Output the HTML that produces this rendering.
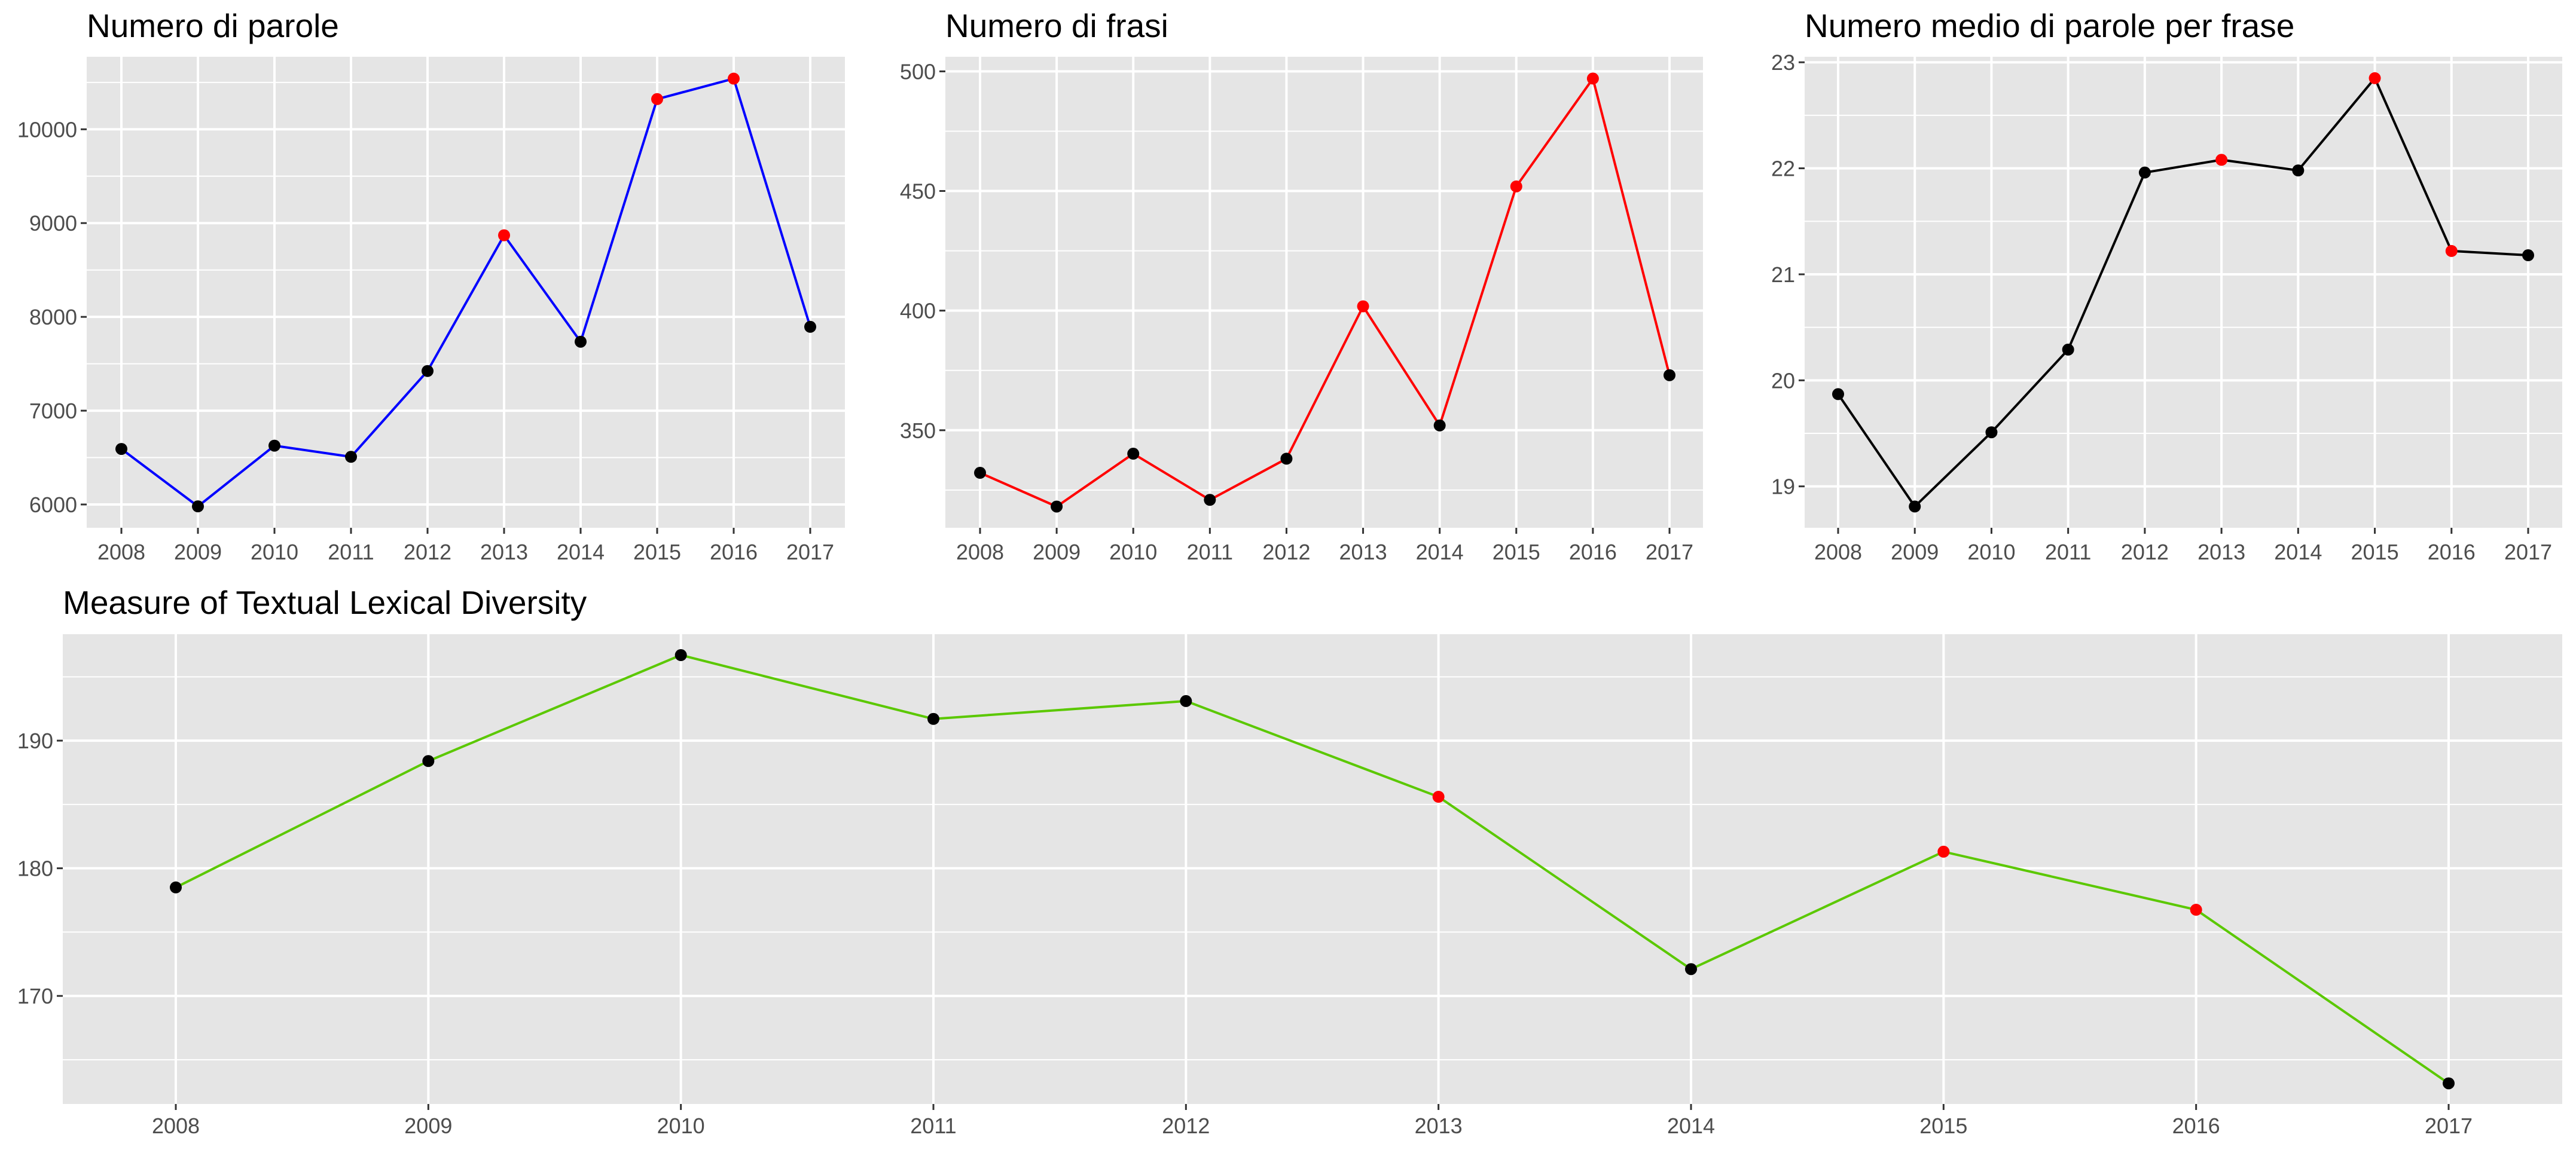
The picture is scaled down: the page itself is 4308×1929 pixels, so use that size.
<!DOCTYPE html>
<html><head><meta charset="utf-8"><style>
html,body{margin:0;padding:0;background:#fff;}
svg{display:block;font-family:"Liberation Sans",Arial,sans-serif;}
</style></head><body>
<svg id="chart" width="4308" height="1929" viewBox="0 0 4308 1929" xmlns="http://www.w3.org/2000/svg"></svg>
<script>
const years = [2008,2009,2010,2011,2012,2013,2014,2015,2016,2017];
const paroleValues = [6592,5980,6627,6508,7423,8870,7735,10322,10540,7894];
const frasiValues = [332.2,318.1,340.2,320.9,338.1,401.8,352,451.9,497,373];
const medioValues = [19.87,18.81,19.51,20.29,21.96,22.08,21.98,22.85,21.22,21.18];
const mtldValues = [178.5,188.4,196.7,191.7,193.1,185.6,172.1,181.3,176.75,163.15];
const paroleRed = [false,false,false,false,false,true,false,true,true,false];
const frasiRed = [false,false,false,false,false,true,false,true,true,false];
const medioRed = [false,false,false,false,false,true,false,true,true,false];
const mtldRed = [false,false,false,false,false,true,false,true,true,false];
const paroleTicks = [6000,7000,8000,9000,10000];
const frasiTicks = [350,400,450,500];
const medioTicks = [19,20,21,22,23];
const mtldTicks = [170,180,190];

const NS = "http://www.w3.org/2000/svg";
const svg = document.getElementById('chart');
function mk(tag, attrs, parent){
  const e = document.createElementNS(NS, tag);
  for (const k in attrs) e.setAttribute(k, attrs[k]);
  (parent||svg).appendChild(e);
  return e;
}
function panel(cfg){
  const g = mk('g', {});
  
  
  const L=cfg.left,R=cfg.right,T=cfg.top,B=cfg.bottom;
  const xs = v => cfg.x0 + (v - years[0]) * (cfg.x1 - cfg.x0) / (years[years.length-1]-years[0]);
  const ys = v => cfg.yA + (v - cfg.vA) * (cfg.yB - cfg.yA) / (cfg.vB - cfg.vA);
  const t = mk('text', {x:L, y:cfg.titleY, 'font-size':cfg.titleSize, fill:'#000'}, g);
  t.textContent = cfg.title;
  
  
  const bg = mk('rect', {x:L, y:T, width:R-L, height:B-T, fill:'#e5e5e5'}, g);
  
  
  const step = cfg.ticks[1]-cfg.ticks[0];
  const lo = cfg.ticks[0] - step*3, hi = cfg.ticks[cfg.ticks.length-1] + step*3;
  for (let v = lo + step/2; v < hi; v += step){
    const y = ys(v);
    if (y > T && y < B){
      const l = mk('line', {x1:L, x2:R, y1:y, y2:y, stroke:'#fff', 'stroke-width':2}, g);
      
      
    }
  }
  cfg.ticks.forEach(v => {
    const y = ys(v);
    const l = mk('line', {x1:L, x2:R, y1:y, y2:y, stroke:'#fff', 'stroke-width':4}, g);
    
    
    const tk = mk('line', {x1:L-10, x2:L, y1:y, y2:y, stroke:'#333', 'stroke-width':3}, g);
    
    
    const tx = mk('text', {x:L-16, y:y+13, 'font-size':36, fill:'#4d4d4d', 'text-anchor':'end'}, g);
    tx.textContent = v;
    
    
  });
  years.forEach(yr => {
    const x = xs(yr);
    const l = mk('line', {x1:x, x2:x, y1:T, y2:B, stroke:'#fff', 'stroke-width':4}, g);
    
    
    const tk = mk('line', {x1:x, x2:x, y1:B, y2:B+10, stroke:'#333', 'stroke-width':3}, g);
    
    
    const tx = mk('text', {x:x, y:cfg.xLabelY, 'font-size':36, fill:'#4d4d4d', 'text-anchor':'middle'}, g);
    tx.textContent = yr;
    
    
  });
  const pts = cfg.values.map((v,i) => xs(years[i]) + ',' + ys(v)).join(' ');
  const pl = mk('polyline', {points:pts, fill:'none', stroke:cfg.color, 'stroke-width':4, 'stroke-linejoin':'round'}, g);
  
  
  cfg.values.forEach((v,i) => {
    const c = mk('circle', {cx:xs(years[i]), cy:ys(v), r:10, fill: cfg.red[i] ? '#ff0000' : '#000'}, g);
    
    
  });
}
panel({name:'panel-numero-di-parole', title:'Numero di parole', left:145, right:1413, top:95, bottom:883,
  x0:203, x1:1355, vA:6000, yA:844, vB:10000, yB:216.3, ticks:paroleTicks, values:paroleValues, red:paroleRed,
  color:'#0000ff', titleY:62, titleSize:55, xLabelY:936});
panel({name:'panel-numero-di-frasi', title:'Numero di frasi', left:1581, right:2848, top:95, bottom:883,
  x0:1639, x1:2792, vA:350, yA:719.8, vB:500, yB:119.4, ticks:frasiTicks, values:frasiValues, red:frasiRed,
  color:'#ff0000', titleY:62, titleSize:55, xLabelY:936});
panel({name:'panel-numero-medio', title:'Numero medio di parole per frase', left:3018, right:4285, top:95, bottom:883,
  x0:3074, x1:4228, vA:19, yA:813.7, vB:23, yB:104.2, ticks:medioTicks, values:medioValues, red:medioRed,
  color:'#000000', titleY:62, titleSize:55, xLabelY:936});
panel({name:'panel-mtld', title:'Measure of Textual Lexical Diversity', left:105, right:4285, top:1061, bottom:1847,
  x0:294, x1:4095, vA:170, yA:1666.2, vB:190, yB:1239.1, ticks:mtldTicks, values:mtldValues, red:mtldRed,
  color:'#5bc800', titleY:1027, titleSize:55, xLabelY:1896});
</script>
</body></html>
